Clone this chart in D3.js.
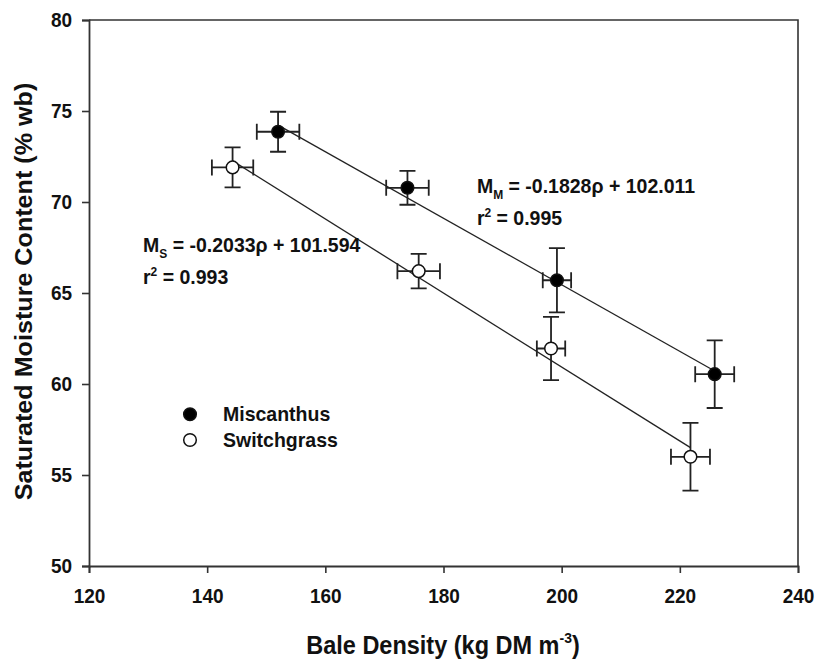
<!DOCTYPE html>
<html>
<head>
<meta charset="utf-8">
<script src="https://cdn.jsdelivr.net/npm/d3@7"></script>
<style>
  body { margin: 0; background: #fff; }
  text { font-family: "Liberation Sans", Arial, sans-serif; font-weight: bold; fill: #111; }
</style>
</head>
<body>
<div id="graph"></div>
<script>
// Miscanthus
const rhoM = [152.0, 173.9, 199.2, 225.9];
const rhoErrM = [3.6, 3.6, 2.4, 3.3];
const moistM = [73.86, 70.78, 65.7, 60.54];
const moistErrM = [1.1, 0.93, 1.77, 1.86];

// Switchgrass
const rhoS = [144.3, 175.8, 198.2, 221.8];
const rhoErrS = [3.5, 3.6, 2.4, 3.3];
const moistS = [71.9, 66.2, 61.95, 56.0];
const moistErrS = [1.1, 0.95, 1.74, 1.86];

// fits
const fitM = { slope: -0.1828, icept: 102.011 };
const fitS = { slope: -0.2033, icept: 101.594 };

const xTicks = [120, 140, 160, 180, 200, 220, 240];
const yTicks = [50, 55, 60, 65, 70, 75, 80];

// the source picture is a bit taller than wide, so text gets stretched
const stretch = 1.07;

let dimensions = {
  width: 817,
  height: 659,
  margin: { top: 20, right: 19, bottom: 93, left: 89 },
}
dimensions.boundedWidth = dimensions.width - dimensions.margin.left - dimensions.margin.right;
dimensions.boundedHeight = dimensions.height - dimensions.margin.top - dimensions.margin.bottom;

function drawChart() {
  const svg = d3.select("#graph")
    .append("svg")
    .attr("width", dimensions.width)
    .attr("height", dimensions.height);

  const bounds = svg.append("g")
    .attr("transform", `translate(${dimensions.margin.left},${dimensions.margin.top})`);

  const xScale = d3.scaleLinear()
    .domain([120, 240])
    .range([0, dimensions.boundedWidth]);
  const yScale = d3.scaleLinear()
    .domain([50, 80])
    .range([dimensions.boundedHeight, 0]);

  // frame (top + right)
  bounds.append("path")
    .attr("d", `M0,0 H${dimensions.boundedWidth} V${dimensions.boundedHeight}`)
    .attr("fill", "none")
    .attr("stroke", "#333")
    .attr("stroke-width", 1.6);

  const xAxis = bounds.append("g")
    .attr("transform", `translate(0,${dimensions.boundedHeight})`)
    .call(d3.axisBottom(xScale).tickValues(xTicks).tickSize(7).tickPadding(14));
  const yAxis = bounds.append("g")
    .call(d3.axisLeft(yScale).tickValues(yTicks).tickSize(7).tickPadding(10));

  [xAxis, yAxis].forEach(ax => {
    ax.select(".domain").attr("stroke", "#333").attr("stroke-width", 1.8);
    ax.selectAll(".tick line").attr("stroke", "#333").attr("stroke-width", 1.6);
    ax.selectAll("text")
      .attr("font-size", 19)
      .attr("font-family", "Liberation Sans, Arial, sans-serif")
      .attr("font-weight", "bold")
      .attr("fill", "#111")
      .attr("transform", `scale(1,${stretch})`);
  });

  // regression lines
  const fits = [
    { fit: fitM, xs: rhoM },
    { fit: fitS, xs: rhoS },
  ];
  fits.forEach(({ fit, xs }) => {
    const x0 = d3.min(xs), x1 = d3.max(xs);
    bounds.append("line")
      .attr("x1", xScale(x0))
      .attr("y1", yScale(fit.slope * x0 + fit.icept))
      .attr("x2", xScale(x1))
      .attr("y2", yScale(fit.slope * x1 + fit.icept))
      .attr("stroke", "#222")
      .attr("stroke-width", 1.3);
  });

  // points with error bars
  const series = [
    { xs: rhoM, xe: rhoErrM, ys: moistM, ye: moistErrM, fill: "#000" },
    { xs: rhoS, xe: rhoErrS, ys: moistS, ye: moistErrS, fill: "#fff" },
  ];
  const cap = 8;
  series.forEach(s => {
    const pts = s.xs.map((x, i) => ({ x, y: s.ys[i], xe: s.xe[i], ye: s.ye[i] }));
    const g = bounds.append("g");
    g.selectAll("path.err").data(pts).enter().append("path")
      .attr("stroke", "#222").attr("stroke-width", 1.8).attr("fill", "none")
      .attr("d", d => {
        const cx = xScale(d.x), cy = yScale(d.y);
        const t = yScale(d.y + d.ye), b = yScale(d.y - d.ye);
        const l = xScale(d.x - d.xe), r = xScale(d.x + d.xe);
        return `M${cx},${t}V${b}M${cx - cap},${t}H${cx + cap}M${cx - cap},${b}H${cx + cap}` +
          `M${l},${cy}H${r}M${l},${cy - cap}V${cy + cap}M${r},${cy - cap}V${cy + cap}`;
      });
    g.selectAll("circle").data(pts).enter().append("circle")
      .attr("cx", d => xScale(d.x))
      .attr("cy", d => yScale(d.y))
      .attr("r", 6.3)
      .attr("fill", s.fill)
      .attr("stroke", "#111")
      .attr("stroke-width", 1.5);
  });

  // equations
  const eqSize = 19.5;
  const eq = (x, y, sub, body, r2) => {
    const t = bounds.append("text")
      .attr("transform", `translate(${x},${y}) scale(1,${stretch})`)
      .attr("font-size", eqSize);
    t.append("tspan").text("M");
    t.append("tspan").attr("font-size", 12).attr("dy", 5).text(sub);
    t.append("tspan").attr("dy", -5).text(body);
    const t2 = bounds.append("text")
      .attr("transform", `translate(${x},${y + 32}) scale(1,${stretch})`)
      .attr("font-size", eqSize);
    t2.append("tspan").text("r");
    t2.append("tspan").attr("font-size", 12).attr("dy", -8).text("2");
    t2.append("tspan").attr("dy", 8).text(` = ${r2}`);
  };
  eq(xScale(185.65), yScale(70.47), "M", ` = ${fitM.slope}\u03c1 + ${fitM.icept.toFixed(3)}`, "0.995");
  eq(xScale(129.14), yScale(67.23), "S", ` = ${fitS.slope}\u03c1 + ${fitS.icept.toFixed(3)}`, "0.993");

  // legend
  const legend = [
    { label: "Miscanthus", fill: "#000" },
    { label: "Switchgrass", fill: "#fff" },
  ];
  const lg = bounds.selectAll("g.legend").data(legend).enter().append("g")
    .attr("transform", (d, i) => `translate(${190 - dimensions.margin.left},${414.3 - dimensions.margin.top + i * 25.7})`);
  lg.append("circle").attr("r", 6.3).attr("fill", d => d.fill).attr("stroke", "#111").attr("stroke-width", 1.5);
  lg.append("text")
    .attr("transform", `translate(33,7) scale(1,${stretch})`)
    .attr("font-size", eqSize)
    .text(d => d.label);

  // axis titles
  const xl = svg.append("text")
    .attr("transform", `translate(443,654) scale(1,${stretch})`)
    .attr("text-anchor", "middle")
    .attr("font-size", 23.5);
  xl.append("tspan").text("Bale Density (kg DM m");
  xl.append("tspan").attr("font-size", 14).attr("dy", -10).text("-3");
  xl.append("tspan").attr("dy", 10).text(")");

  svg.append("text")
    .attr("transform", `translate(31.5,291.5) rotate(-90) scale(${stretch},1)`)
    .attr("text-anchor", "middle")
    .attr("font-size", 23.5)
    .text("Saturated Moisture Content (% wb)");
}

drawChart();
</script>
</body>
</html>
